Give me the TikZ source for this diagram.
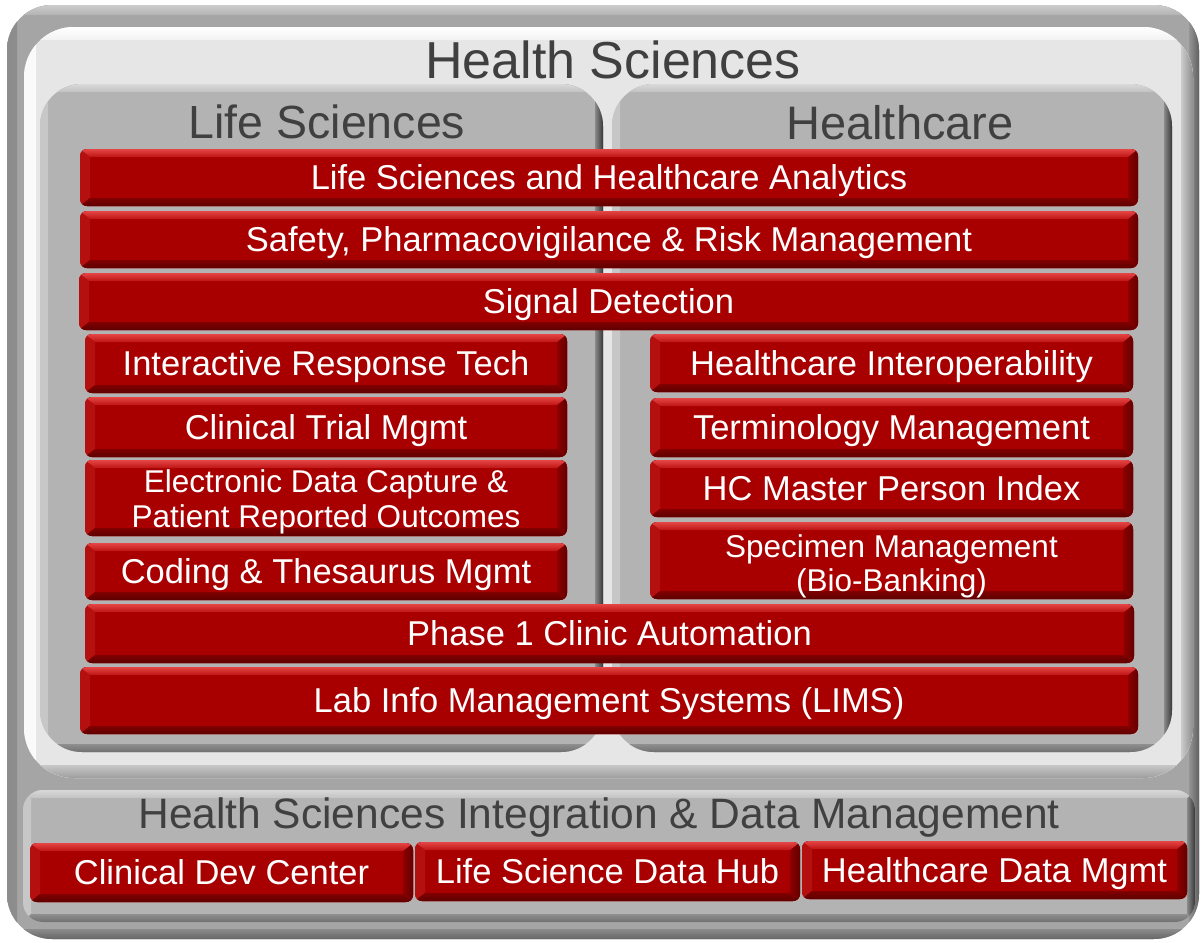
\documentclass[tikz,border=0pt]{standalone}
\usepackage{fontspec}
\setmainfont{Liberation Sans}
\usetikzlibrary{fit,calc}

\definecolor{redface}{HTML}{A80000}
\definecolor{redtopA}{HTML}{E54545}
\definecolor{redtopB}{HTML}{BE1414}
\definecolor{redleft}{HTML}{B51010}
\definecolor{redbotA}{HTML}{800000}
\definecolor{redbotB}{HTML}{5E0000}
\definecolor{redrightA}{HTML}{8C0000}
\definecolor{redrightB}{HTML}{640000}
\definecolor{titlegray}{HTML}{404040}
\definecolor{panelface}{HTML}{B3B3B3}
\definecolor{lightface}{HTML}{E6E6E6}
\definecolor{outerface}{HTML}{A5A5A5}

% bevel drawn inside a node: #1 top outer, #2 top inner, #3 left opts, #4 bottom inner,
% #5 bottom outer, #6 right opts, #7 horizontal width, #8 vertical width
\newcommand\bevelpp[8]{%
\fill[sharp corners,#3] (path picture bounding box.north west) -- ([shift={(#7,-#8)}]path picture bounding box.north west) -- ([shift={(#7,#8)}]path picture bounding box.south west) -- (path picture bounding box.south west) -- cycle;
\fill[sharp corners,#6] (path picture bounding box.north east) -- ([shift={(-#7,-#8)}]path picture bounding box.north east) -- ([shift={(-#7,#8)}]path picture bounding box.south east) -- (path picture bounding box.south east) -- cycle;
\fill[sharp corners,top color=#1,bottom color=#2] (path picture bounding box.north west) -- (path picture bounding box.north east) -- ([shift={(-#7,-#8)}]path picture bounding box.north east) -- ([shift={(#7,-#8)}]path picture bounding box.north west) -- cycle;
\fill[sharp corners,top color=#4,bottom color=#5] ([shift={(#7,#8)}]path picture bounding box.south west) -- ([shift={(-#7,#8)}]path picture bounding box.south east) -- (path picture bounding box.south east) -- (path picture bounding box.south west) -- cycle;
}

\newcommand\barfont{\fontsize{34.5}{40}\selectfont}
\newcommand\smallbarfont{\fontsize{31.5}{34.5}\selectfont}

\tikzset{
  redbar/.style={rounded corners=7pt, inner sep=0pt, fill=redface,
    path picture={\bevelpp{redtopA}{redtopB}{fill=redleft}{redbotA}{redbotB}{left color=redrightA,right color=redrightB}{10pt}{8pt}}},
  bartext/.style={text=white, inner sep=0pt, font=\barfont, text height=24.7pt, text depth=0pt},
  bartexttwo/.style={text=white, inner sep=0pt, font=\smallbarfont, align=center, text height=22.5pt, text depth=0pt},
  graypanel/.style={rounded corners=42pt, inner sep=0pt, fill=panelface,
    path picture={\bevelpp{black!15}{black!24}{fill=black!22}{black!44}{black!56}{left color=black!46,right color=black!78}{8pt}{8pt}}},
  lightpanel/.style={rounded corners=50pt, inner sep=0pt, fill=lightface,
    path picture={\bevelpp{white}{black!5}{fill=black!2}{black!22}{black!38}{left color=black!20,right color=black!45}{12pt}{13pt}}},
  outerpanel/.style={rounded corners=45pt, inner sep=0pt, fill=outerface,
    path picture={\bevelpp{black!20}{black!30}{left color=black!45,right color=black!24}{black!45}{black!60}{left color=black!42,right color=black!62}{10pt}{10pt}}},
  titletext/.style={text=titlegray, inner sep=0pt, anchor=base}
}

\begin{document}
\begin{tikzpicture}[x=1pt,y=-1pt]
\useasboundingbox (0,0) rectangle (1203,943);
\fill[white] (0,0) rectangle (1203,943);

% containers
\node[outerpanel, fit={(7,5)(1199,939)}] (outer) {};
\node[lightpanel, fit={(24,27)(1193,778)}] (hspanel) {};
\node[graypanel, fit={(40,84)(603,752)}] (lspanel) {};
\node[graypanel, fit={(612,84)(1172,752)}] (hcpanel) {};
\node[graypanel, rounded corners=20pt, fit={(23,790)(1195,922)}] (intpanel) {};

% titles
\node[titletext, font=\fontsize{52}{60}\selectfont] (hstitle) at (613,78) {Health Sciences};
\node[titletext, font=\fontsize{46.5}{54}\selectfont] (lstitle) at (327,138) {Life Sciences};
\node[titletext, font=\fontsize{47}{54}\selectfont] (hctitle) at (900,139) {Healthcare};
\node[titletext, font=\fontsize{42.5}{50}\selectfont] (inttitle) at (599,828) {Health Sciences Integration \& Data Management};

% full-width bars
\node[redbar, fit={(80,149)(1138,206)}, label={[bartext]center:Life Sciences and Healthcare Analytics}] (ana) {};
\node[redbar, fit={(80,211)(1138,268)}, label={[bartext]center:Safety, Pharmacovigilance \& Risk Management}] (safe) {};
\node[redbar, fit={(79,273)(1138,330)}, label={[bartext]center:Signal Detection}] (sig) {};

% life sciences column
\node[redbar, fit={(85,334)(567,393)}, label={[bartext]center:Interactive Response Tech}] (irt) {};
\node[redbar, fit={(85,397)(567,457)}, label={[bartext]center:Clinical Trial Mgmt}] (ctm) {};
\node[redbar, fit={(85,460)(567,536)}, label={[bartexttwo, yshift=-18pt]center:Electronic Data Capture \&\\Patient Reported Outcomes}] (edc) {};
\node[redbar, fit={(85,543)(567,600)}, label={[bartext]center:Coding \& Thesaurus Mgmt}] (code) {};

% healthcare column
\node[redbar, fit={(650,334)(1133,392)}, label={[bartext]center:Healthcare Interoperability}] (hci) {};
\node[redbar, fit={(650,398)(1133,457)}, label={[bartext]center:Terminology Management}] (term) {};
\node[redbar, fit={(650,460)(1133,517)}, label={[bartext]center:HC Master Person Index}] (mpi) {};
\node[redbar, fit={(650,522)(1133,599)}, label={[bartexttwo, yshift=-20pt]center:Specimen Management\\(Bio-Banking)}] (spec) {};

% full-width bottom bars
\node[redbar, fit={(85,604)(1134,663)}, label={[bartext]center:Phase 1 Clinic Automation}] (ph1) {};
\node[redbar, fit={(80,667)(1138,734)}, label={[bartext]center:Lab Info Management Systems (LIMS)}] (lims) {};

% integration bars
\node[redbar, fit={(30,843)(413,902)}, label={[bartext]center:Clinical Dev Center}] (cdc) {};
\node[redbar, fit={(415,842)(800,901)}, label={[bartext]center:Life Science Data Hub}] (hub) {};
\node[redbar, fit={(802,841)(1187,899)}, label={[bartext]center:Healthcare Data Mgmt}] (hdm) {};
\end{tikzpicture}
\end{document}
